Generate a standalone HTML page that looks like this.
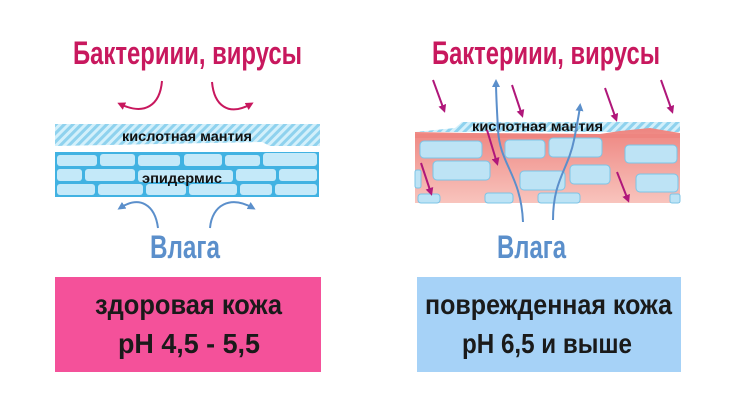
<!DOCTYPE html>
<html><head><meta charset="utf-8"><style>
html,body{margin:0;padding:0;background:#fff;}
svg{display:block;}
text{font-family:"Liberation Sans Narrow","Liberation Sans","DejaVu Sans Condensed",sans-serif;font-weight:bold;}
</style></head><body>
<svg width="735" height="409" viewBox="0 0 735 409" xmlns="http://www.w3.org/2000/svg">
<defs>
<pattern id="h" width="6" height="6" patternUnits="userSpaceOnUse" patternTransform="rotate(45)">
<rect width="6" height="6" fill="#d3f0fb"/><rect width="3" height="6" fill="#8fd2ee"/>
</pattern>
<linearGradient id="pk" x1="0" y1="0" x2="0" y2="1"><stop offset="0" stop-color="#ee8580"/><stop offset="1" stop-color="#f8c4bd"/></linearGradient>
<marker id="ar" markerWidth="8" markerHeight="8" refX="5" refY="4" orient="auto" markerUnits="userSpaceOnUse"><path d="M0,0 L8,4 L0,8 Z" fill="#c8185e"/></marker>
<marker id="ab" markerWidth="8" markerHeight="8" refX="5" refY="4" orient="auto" markerUnits="userSpaceOnUse"><path d="M0,0 L8,4 L0,8 Z" fill="#5b8fcb"/></marker>
<marker id="am" markerWidth="8" markerHeight="8" refX="5" refY="4" orient="auto" markerUnits="userSpaceOnUse"><path d="M0,0 L8,4 L0,8 Z" fill="#b0177a"/></marker>
</defs>

<!-- LEFT -->
<text x="73" y="64" font-size="32" fill="#c8185e" textLength="229" lengthAdjust="spacingAndGlyphs">Бактериии, вирусы</text>
<path d="M162,81 C160,105 145,116 120,104" stroke="#c8185e" stroke-width="2" fill="none" marker-end="url(#ar)"/>
<path d="M212,82 C214,105 228,117 251,104" stroke="#c8185e" stroke-width="2" fill="none" marker-end="url(#ar)"/>
<path d="M55,124 L320,124 L320,146 L270,146 L262,142 L55,146 Z" fill="url(#h)"/>
<text x="122" y="141" font-size="14" fill="#111" textLength="130" lengthAdjust="spacingAndGlyphs">кислотная мантия</text>
<rect x="55" y="152" width="264" height="45" fill="#41b2e2"/>
<g fill="#c4e9f9">
<rect x="57" y="155" width="40" height="11" rx="3"/><rect x="100" y="154" width="35" height="12" rx="3"/><rect x="138" y="155" width="42" height="11" rx="3"/><rect x="184" y="154" width="38" height="12" rx="3"/><rect x="225" y="155" width="35" height="11" rx="3"/><rect x="263" y="153" width="54" height="13" rx="3"/>
<rect x="57" y="169" width="25" height="12" rx="3"/><rect x="85" y="169" width="50" height="12" rx="3"/><rect x="138" y="170" width="95" height="12" rx="3"/><rect x="236" y="169" width="40" height="12" rx="3"/><rect x="279" y="169" width="38" height="12" rx="3"/>
<rect x="57" y="184" width="38" height="11" rx="3"/><rect x="98" y="184" width="45" height="11" rx="3"/><rect x="146" y="184" width="40" height="11" rx="3"/><rect x="189" y="184" width="48" height="11" rx="3"/><rect x="240" y="184" width="32" height="11" rx="3"/><rect x="275" y="184" width="42" height="11" rx="3"/>
</g>
<text x="142" y="183" font-size="14" fill="#111" textLength="80" lengthAdjust="spacingAndGlyphs">эпидермис</text>
<path d="M158,228 C155,205 140,195 120,208" stroke="#5b8fcb" stroke-width="2" fill="none" marker-end="url(#ab)"/>
<path d="M210,228 C212,205 230,195 253,208" stroke="#5b8fcb" stroke-width="2" fill="none" marker-end="url(#ab)"/>
<text x="150" y="258" font-size="32" fill="#5b8fcb" textLength="70" lengthAdjust="spacingAndGlyphs">Влага</text>
<rect x="55" y="277" width="266" height="95" fill="#f4519a"/>
<text x="95" y="314" font-size="28" fill="#1a1a1a" textLength="187" lengthAdjust="spacingAndGlyphs">здоровая кожа</text>
<text x="118" y="353" font-size="28" fill="#1a1a1a" textLength="142" lengthAdjust="spacingAndGlyphs">pH 4,5 - 5,5</text>

<!-- RIGHT -->
<path d="M415,132 L455,128 L462,122 L680,122 L680,132 Z" fill="url(#h)"/>
<path d="M415,132 L470,133 L600,134 L620,131 L650,128 L680,133 L680,203 L415,203 Z" fill="url(#pk)"/>
<rect x="415" y="134" width="265" height="4" fill="#ee8580"/>
<g fill="#bde3f5" stroke="#7cc4e6" stroke-width="1">
<rect x="420" y="141" width="62" height="17" rx="4"/><rect x="505" y="140" width="40" height="18" rx="4"/><rect x="549" y="138" width="53" height="19" rx="4"/><rect x="625" y="145" width="52" height="18" rx="4"/>
<rect x="433" y="161" width="57" height="19" rx="4"/><rect x="520" y="171" width="45" height="19" rx="4"/><rect x="570" y="165" width="40" height="19" rx="4"/><rect x="636" y="174" width="42" height="18" rx="4"/>
<rect x="415" y="170" width="6" height="18" rx="2"/>
<rect x="485" y="193" width="28" height="10" rx="3"/><rect x="538" y="193" width="42" height="10" rx="3"/><rect x="418" y="194" width="22" height="9" rx="3"/><rect x="670" y="194" width="10" height="9" rx="2"/>
</g>
<text x="432" y="64" font-size="32" fill="#c8185e" textLength="228" lengthAdjust="spacingAndGlyphs">Бактериии, вирусы</text>
<text x="472" y="131" font-size="14" fill="#111" textLength="131" lengthAdjust="spacingAndGlyphs">кислотная мантия</text>
<g stroke="#b0177a" stroke-width="2" fill="none">
<path d="M433,80 L444,110" marker-end="url(#am)"/>
<path d="M512,85 L522,115" marker-end="url(#am)"/>
<path d="M605,88 L616,119" marker-end="url(#am)"/>
<path d="M661,80 L672,111" marker-end="url(#am)"/>
<path d="M487,130 L497,163" marker-end="url(#am)"/>
<path d="M421,163 L431,193" marker-end="url(#am)"/>
<path d="M617,172 L628,200" marker-end="url(#am)"/>
</g>
<path d="M523,222 C521,175 500,165 498,130 C497,110 496,95 496,82" stroke="#5b8fcb" stroke-width="2" fill="none" marker-end="url(#ab)"/>
<path d="M553,220 C553,180 568,170 574,140 C577,125 579,115 580,106" stroke="#5b8fcb" stroke-width="2" fill="none" marker-end="url(#ab)"/>
<text x="497" y="258" font-size="32" fill="#5b8fcb" textLength="69" lengthAdjust="spacingAndGlyphs">Влага</text>
<rect x="417" y="277" width="264" height="95" fill="#a6d2f7"/>
<text x="425" y="314" font-size="28" fill="#1a1a1a" textLength="247" lengthAdjust="spacingAndGlyphs">поврежденная кожа</text>
<text x="462" y="353" font-size="28" fill="#1a1a1a" textLength="170" lengthAdjust="spacingAndGlyphs">pH 6,5 и выше</text>
</svg>
</body></html>
